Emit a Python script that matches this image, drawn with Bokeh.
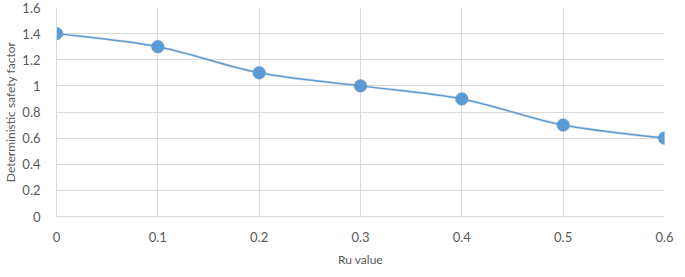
import numpy as np
from bokeh.plotting import figure
from bokeh.models import Range1d, FixedTicker, ColumnDataSource, Bezier
from bokeh.embed import file_html
from bokeh.resources import INLINE

ru_values = [0.0, 0.1, 0.2, 0.3, 0.4, 0.5, 0.6]
safety_factor = [1.4, 1.3, 1.1, 1.0, 0.9, 0.7, 0.6]
x_ticks = [0.0, 0.1, 0.2, 0.3, 0.4, 0.5, 0.6]
y_ticks = [0.0, 0.2, 0.4, 0.6, 0.8, 1.0, 1.2, 1.4, 1.6]
x_tick_labels = {0.0: "0", 0.1: "0.1", 0.2: "0.2", 0.3: "0.3", 0.4: "0.4", 0.5: "0.5", 0.6: "0.6"}
y_tick_labels = {0.0: "0", 0.2: "0.2", 0.4: "0.4", 0.6: "0.6", 0.8: "0.8", 1.0: "1",
                 1.2: "1.2", 1.4: "1.4", 1.6: "1.6"}

BLUE = "#5B9BD5"
GRID = "#D9D9D9"
TXT = "#595959"
FONT = "Lato"

p = figure(width=677, height=269, output_backend="svg", toolbar_location=None,
           x_range=Range1d(0, 0.6), y_range=Range1d(0, 1.6),
           min_border_top=7, min_border_right=13, min_border_left=0, min_border_bottom=0)
p.outline_line_color = None
p.background_fill_color = "white"

p.xaxis.ticker = FixedTicker(ticks=x_ticks)
p.yaxis.ticker = FixedTicker(ticks=y_ticks)
p.xaxis.major_label_overrides = x_tick_labels
p.yaxis.major_label_overrides = y_tick_labels
for ax in (p.xaxis, p.yaxis):
    ax.major_tick_line_color = None
    ax.minor_tick_line_color = None
    ax.axis_line_color = GRID
    ax.axis_line_width = 1
    ax.major_label_text_font = FONT
    ax.major_label_text_font_size = "13px"
    ax.major_label_text_color = TXT
    ax.axis_label_text_font = FONT
    ax.axis_label_text_font_size = "12px"
    ax.axis_label_text_color = TXT
    ax.axis_label_text_font_style = "normal"
p.xaxis.axis_label = "Ru value"
p.yaxis.axis_label = "Deterministic safety factor"
p.xaxis.major_label_standoff = 9
p.xaxis.axis_label_standoff = 7
p.yaxis.major_label_standoff = 10
p.yaxis.axis_label_standoff = 1

p.xgrid.grid_line_color = GRID
p.ygrid.grid_line_color = GRID
p.xgrid.grid_line_width = 1
p.ygrid.grid_line_width = 1

# Smoothed line (Catmull-Rom style Bezier segments through the data points)
x = np.array(ru_values)
y = np.array(safety_factor)
n = len(x)
x0, y0, x1, y1, cx0, cy0, cx1, cy1 = [], [], [], [], [], [], [], []
for i in range(n - 1):
    pm = i - 1 if i > 0 else i
    pp = i + 2 if i + 2 < n else i + 1
    x0.append(x[i]); y0.append(y[i]); x1.append(x[i + 1]); y1.append(y[i + 1])
    cx0.append(x[i] + (x[i + 1] - x[pm]) / 6); cy0.append(y[i] + (y[i + 1] - y[pm]) / 6)
    cx1.append(x[i + 1] - (x[pp] - x[i]) / 6); cy1.append(y[i + 1] - (y[pp] - y[i]) / 6)
bez = ColumnDataSource(dict(x0=x0, y0=y0, x1=x1, y1=y1, cx0=cx0, cy0=cy0, cx1=cx1, cy1=cy1))

shadow = Bezier(x0="x0", y0="y0", x1="x1", y1="y1", cx0="cx0", cy0="cy0", cx1="cx1", cy1="cy1",
                line_color="#BFBFBF", line_width=3, line_alpha=0.35)
p.add_glyph(bez, shadow)
p.bezier(x0="x0", y0="y0", x1="x1", y1="y1", cx0="cx0", cy0="cy0", cx1="cx1", cy1="cy1",
         source=bez, line_color=BLUE, line_width=1.5)

src = ColumnDataSource(dict(x=ru_values, y=safety_factor))
p.scatter("x", "y", source=src, size=14, fill_color="#9E9E9E", fill_alpha=0.3,
          line_color=None)
p.scatter("x", "y", source=src, size=12, fill_color=BLUE, line_color=BLUE)

open("out.html", "w").write(file_html(p, INLINE))
